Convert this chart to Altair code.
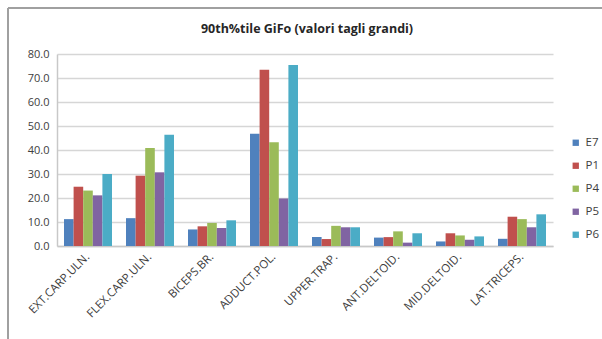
import altair as alt
import pandas as pd

categories = ["EXT.CARP.ULN.", "FLEX.CARP.ULN.", "BICEPS.BR.", "ADDUCT.POL.",
              "UPPER.TRAP.", "ANT.DELTOID.", "MID.DELTOID.", "LAT.TRICEPS."]
series = ["E7", "P1", "P4", "P5", "P6"]
colors = ["#4F81BD", "#C0504D", "#9BBB59", "#8064A2", "#4BACC6"]
title_text = ["90th%tile GiFo (valori tagli grandi)"]

E7 = [11.2, 11.6, 6.9, 46.8, 3.7, 3.5, 1.9, 3.0]
P1 = [24.7, 29.3, 8.2, 73.4, 2.9, 3.7, 5.3, 12.2]
P4 = [23.1, 40.8, 9.6, 43.2, 8.4, 6.1, 4.4, 11.2]
P5 = [21.1, 30.7, 7.5, 19.8, 7.8, 1.4, 2.6, 7.8]
P6 = [30.0, 46.4, 10.7, 75.4, 7.8, 5.3, 4.0, 13.2]

vals = {"E7": E7, "P1": P1, "P4": P4, "P5": P5, "P6": P6}
rows = []
for s in series:
    for c, v in zip(categories, vals[s]):
        rows.append({"cat": c, "series": s, "value": v})
df = pd.DataFrame(rows)

W, H = 496, 192
PL, PT = 57, 54

bars = alt.Chart(df).mark_bar().encode(
    x=alt.X("cat:N", sort=categories,
            scale=alt.Scale(paddingInner=0.226, paddingOuter=0.113),
            axis=alt.Axis(title=None, labelAngle=-45, labelAlign="right",
                          labelBaseline="middle", labelPadding=9, ticks=False,
                          labelFont="Open Sans", labelFontSize=11.5, labelColor="#404040",
                          domainColor="#c8c8c8", domainWidth=1.5, grid=False)),
    xOffset=alt.XOffset("series:N", sort=series),
    y=alt.Y("value:Q", scale=alt.Scale(domain=[0, 80], nice=False),
            axis=alt.Axis(title=None, format=".1f", values=[0, 10, 20, 30, 40, 50, 60, 70, 80],
                          ticks=False, labelPadding=8, labelFont="Open Sans",
                          labelFontSize=11, labelColor="#404040",
                          domainColor="#c8c8c8", domainWidth=1.5,
                          gridColor="#d6d6d6", gridWidth=1.5)),
    color=alt.Color("series:N", sort=series,
                    scale=alt.Scale(domain=series, range=colors),
                    legend=alt.Legend(title=None, orient="none", legendX=513, legendY=83,
                                      symbolType="square", symbolSize=40,
                                      symbolStrokeWidth=0, labelFont="Open Sans",
                                      labelFontSize=11.5, labelColor="#404040",
                                      rowPadding=10, labelOffset=4)),
)

title = alt.Chart(pd.DataFrame({"t": title_text})).mark_text(
    font="Open Sans", fontSize=12.5, fontWeight="bold", color="#262626",
    align="center", baseline="middle"
).encode(text="t:N", x=alt.value(W / 2 + 2), y=alt.value(29 - PT))

border_top = alt.Chart(df).mark_rule(color="#a0a0a0", strokeWidth=2).encode(
    x=alt.value(8 - PL), x2=alt.value(602 - PL), y=alt.value(8 - PT)
)
border_left = alt.Chart(df).mark_rule(color="#a0a0a0", strokeWidth=2).encode(
    x=alt.value(8 - PL), y=alt.value(8 - PT), y2=alt.value(339 - PT)
)

chart = alt.layer(bars, title, border_top, border_left).properties(
    width=W, height=H,
    autosize=alt.AutoSizeParams(type="none"),
    padding={"left": PL, "top": PT, "right": 602 - PL - W, "bottom": 339 - PT - H},
    background="white",
).configure_view(stroke=None)

chart.save("out.html", embed_options={"renderer": "svg", "actions": False})
